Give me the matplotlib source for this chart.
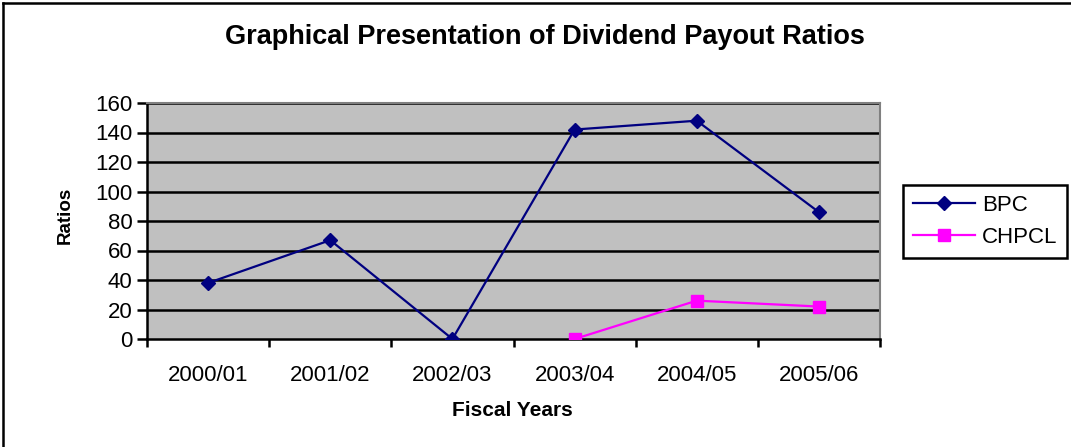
import matplotlib
matplotlib.use("Agg")
import matplotlib.pyplot as plt
from matplotlib.lines import Line2D

categories = ["2000/01", "2001/02", "2002/03", "2003/04", "2004/05", "2005/06"]
bpc = [38, 67, 0, 142, 148, 86]
chpcl_idx = [3, 4, 5]
chpcl = [0, 26, 22]
yticks = [0, 20, 40, 60, 80, 100, 120, 140, 160]

plt.rcParams['font.family'] = ['Liberation Sans', 'DejaVu Sans']

W, H = 1071, 447
fig = plt.figure(figsize=(W / 100, H / 100), dpi=100)
ax = fig.add_axes([147 / W, 1 - 339 / H, (880 - 147) / W, (339 - 103) / H])
ax.set_facecolor('#C0C0C0')

x = list(range(len(categories)))
ax.plot(x, bpc, color='#000080', lw=1.6, marker='D', ms=7.5, label='BPC', zorder=3)
ax.plot(chpcl_idx, chpcl, color='#FF00FF', lw=1.6, marker='s', ms=9, label='CHPCL', zorder=3)

ax.set_xlim(-0.5, len(categories) - 0.5)
ax.set_ylim(0, 160)
ax.set_yticks(yticks)
ax.set_yticklabels([str(v) for v in yticks], fontsize=16)
ax.set_xticks([i - 0.5 for i in range(len(categories) + 1)])
ax.set_xticklabels([])
ax.set_xticks(x, minor=True)
ax.set_xticklabels(categories, minor=True, fontsize=16)
ax.tick_params(axis='x', which='minor', length=0, pad=19)
ax.tick_params(axis='x', which='major', length=6, width=1.8, color='black', direction='out')
ax.tick_params(axis='y', length=7, width=1.8, color='black', direction='out', pad=3.5)

for v in yticks[1:]:
    ax.axhline(v, color='black', lw=1.8, zorder=1)

for s in ['top', 'right']:
    ax.spines[s].set_color('#808080')
    ax.spines[s].set_linewidth(1.5)
for s in ['left', 'bottom']:
    ax.spines[s].set_color('black')
    ax.spines[s].set_linewidth(1.8)

fig.text(65 / W, 1 - 215 / H, 'Ratios', fontsize=13.5, fontweight='bold',
         rotation=90, ha='center', va='center')
fig.text(512 / W, 1 - 410 / H, 'Fiscal Years', fontsize=15, fontweight='bold',
         ha='center', va='center')
fig.text(545 / W, 1 - 37 / H, 'Graphical Presentation of Dividend Payout Ratios',
         fontsize=19.5, fontweight='bold', ha='center', va='center')

leg = fig.legend(loc='upper left', bbox_to_anchor=(903 / W, 1 - 185 / H), fontsize=16,
                 frameon=True, fancybox=False, edgecolor='black', framealpha=1,
                 handlelength=2.8, borderpad=0.45, labelspacing=0.5, handletextpad=0.3,
                 borderaxespad=0)
leg.get_frame().set_linewidth(1.8)

fig.add_artist(Line2D([3 / W, 3 / W], [0, 1 - 3 / H], transform=fig.transFigure, color='black', lw=1.8))
fig.add_artist(Line2D([3 / W, 1], [1 - 3 / H, 1 - 3 / H], transform=fig.transFigure, color='black', lw=1.8))

fig.savefig('out.png', dpi=100)
